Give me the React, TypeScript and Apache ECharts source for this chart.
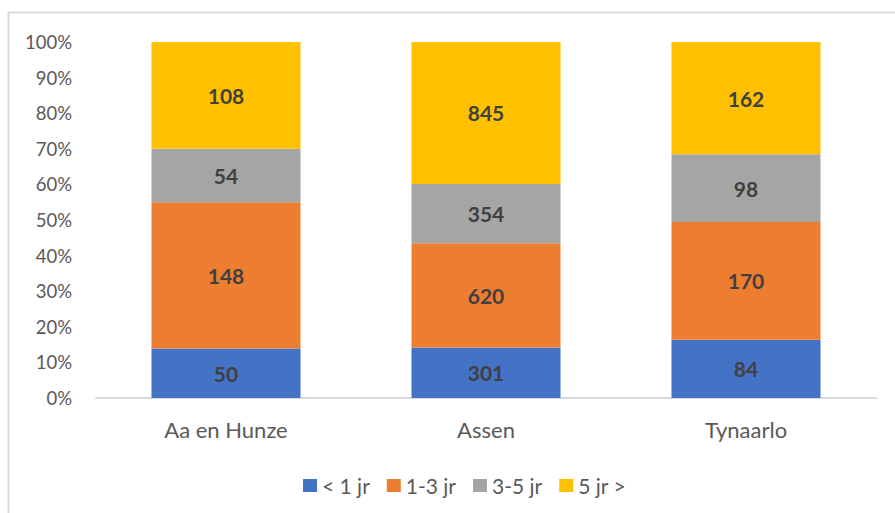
import React, { useEffect, useRef } from "react";
import * as echarts from "echarts";

const categories = ["Aa en Hunze", "Assen", "Tynaarlo"];
const seriesNames = ["< 1 jr", "1-3 jr", "3-5 jr", "5 jr >"];
const lessThan1 = [50, 301, 84];
const oneToThree = [148, 620, 170];
const threeToFive = [54, 354, 98];
const fivePlus = [108, 845, 162];
const colors = ["#4472C4", "#ED7D31", "#A5A5A5", "#FFC000"];

export default function App() {
  const ref = useRef<HTMLDivElement>(null);
  useEffect(() => {
    if (!ref.current) return;
    const chart = echarts.init(ref.current, undefined, { renderer: "svg" });
    const raw = [lessThan1, oneToThree, threeToFive, fivePlus];
    const totals = categories.map((_, i) => raw.reduce((s, arr) => s + arr[i], 0));
    const font = "Lato, 'Open Sans', sans-serif";
    chart.setOption({
      animation: false,
      backgroundColor: "#ffffff",
      textStyle: { fontFamily: font },
      graphic: [
        {
          type: "rect",
          shape: { x: 8.5, y: 12.5, width: 900, height: 520 },
          style: { fill: "none", stroke: "#d9d9d9", lineWidth: 2 },
          silent: true,
        },
      ],
      grid: { left: 96, right: 19, top: 42, bottom: 115 },
      xAxis: {
        type: "category",
        data: categories,
        axisLine: { lineStyle: { color: "#d9d9d9", width: 2 } },
        axisTick: { show: false },
        axisLabel: { color: "#595959", fontSize: 22, margin: 20, fontFamily: font },
      },
      yAxis: {
        type: "value",
        min: 0,
        max: 100,
        interval: 10,
        splitLine: { show: false },
        axisLine: { show: false },
        axisTick: { show: false },
        axisLabel: { color: "#595959", fontSize: 18.5, margin: 24, formatter: "{value}%", fontFamily: font },
      },
      legend: {
        top: 470,
        left: 298,
        itemWidth: 14,
        itemHeight: 13,
        itemGap: 17,
        icon: "rect",
        data: seriesNames,
        textStyle: { color: "#595959", fontSize: 21, fontFamily: font },
      },
      series: raw.map((arr, si) => ({
        name: seriesNames[si],
        type: "bar",
        stack: "total",
        barWidth: 149,
        itemStyle: { color: colors[si] },
        data: arr.map((v, i) => ({ value: (v / totals[i]) * 100, raw: v })),
        label: {
          show: true,
          position: "inside",
          color: "#404040",
          fontSize: 21,
          fontWeight: "bold",
          fontFamily: font,
          formatter: (p: any) => String(p.data.raw),
        },
      })),
    });
    return () => chart.dispose();
  }, []);
  return (
    <div
      ref={ref}
      style={{ position: "fixed", left: 0, top: 0, width: 895, height: 513 }}
    />
  );
}
